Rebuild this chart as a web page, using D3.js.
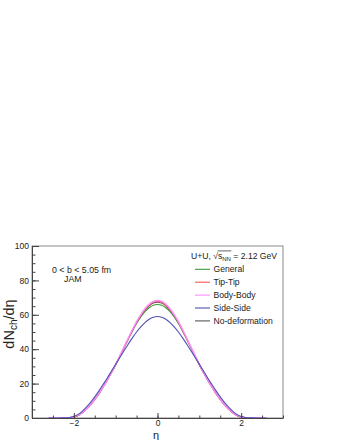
<!DOCTYPE html>
<html><head><meta charset="utf-8">
<script src="https://cdn.jsdelivr.net/npm/d3@7"></script>
<style>body{margin:0;background:#fff;} svg text{font-family:"Liberation Sans",Arial,sans-serif;fill:#222;white-space:pre;}</style>
</head><body><svg id="c" width="340" height="440"></svg>
<script>
// ---- data ----
const eta = [-2.6,-2.5,-2.4,-2.3,-2.2,-2.1,-2.0,-1.9,-1.8,-1.7,-1.6,-1.5,-1.4,-1.3,-1.2,-1.1,-1.0,-0.9,-0.8,-0.7,-0.6,-0.5,-0.4,-0.3,-0.2,-0.1,
  0.0,0.1,0.2,0.3,0.4,0.5,0.6,0.7,0.8,0.9,1.0,1.1,1.2,1.3,1.4,1.5,1.6,1.7,1.8,1.9,2.0,2.1,2.2,2.3,2.4,2.5,2.6];
const general = [0,0,0,0,0.05,0.2,0.6,1.5,3.0,5.1,7.7,10.8,14.2,18.0,22.1,26.4,31.0,35.8,40.8,45.7,50.5,54.9,58.7,61.8,64.1,65.6,
  66.0,65.6,64.1,61.8,58.7,54.9,50.5,45.7,40.8,35.8,31.0,26.4,22.1,18.0,14.2,10.8,7.7,5.1,3.0,1.5,0.6,0.2,0.05,0,0,0,0];
const tipTip = [0,0,0,0,0.05,0.2,0.6,1.5,3.0,5.0,7.6,10.7,14.1,17.9,22.0,26.4,31.0,35.9,41.0,46.1,51.0,55.7,59.7,63.0,65.6,67.3,
  67.8,67.3,65.6,63.0,59.7,55.7,51.0,46.1,41.0,35.9,31.0,26.4,22.0,17.9,14.1,10.7,7.6,5.0,3.0,1.5,0.6,0.2,0.05,0,0,0,0];
const bodyBody = [0,0,0,0,0.07,0.2,0.6,1.6,3.1,5.2,7.8,10.9,14.3,18.1,22.2,26.5,31.1,36.1,41.2,46.3,51.3,56.0,60.0,63.5,66.1,67.8,
  68.3,67.8,66.1,63.5,60.0,56.0,51.3,46.3,41.2,36.1,31.1,26.5,22.2,18.1,14.3,10.9,7.8,5.2,3.1,1.6,0.6,0.2,0.07,0,0,0,0];
const sideSide = [0,0,0,0.05,0.1,0.3,0.9,2.1,3.9,6.3,9.1,12.3,15.8,19.5,23.3,27.3,31.3,35.2,39.1,42.9,46.6,50.0,53.0,55.5,57.4,58.6,
  59.0,58.6,57.4,55.5,53.0,50.0,46.6,42.9,39.1,35.2,31.3,27.3,23.3,19.5,15.8,12.3,9.1,6.3,3.9,2.1,0.9,0.3,0.1,0.05,0,0,0];
const noDeform = [0,0,0,0,0.05,0.2,0.6,1.5,3.0,5.1,7.7,10.8,14.2,18.0,22.1,26.4,31.0,35.9,41.0,46.0,50.9,55.5,59.4,62.7,65.2,66.8,
  67.3,66.8,65.2,62.7,59.4,55.5,50.9,46.0,41.0,35.9,31.0,26.4,22.1,18.0,14.2,10.8,7.7,5.1,3.0,1.5,0.6,0.2,0.05,0,0,0,0];
const seriesNames = ["General","Tip-Tip","Body-Body","Side-Side","No-deformation"];
const seriesValues = [general, tipTip, bodyBody, sideSide, noDeform];
const seriesColors = ["#3a9a3a","#ff5555","#ff8cff","#5050b8","#555555"];
const xTicks = [-2,0,2];
const yTicks = [0,20,40,60,80,100];

// ---- layout ----
const svg = d3.select("#c");
const L=32, R=283, T=246, B=418;
const x = d3.scaleLinear().domain([-3,3]).range([L,R]);
const y = d3.scaleLinear().domain([0,100]).range([B,T]);

// frame
svg.append("rect").attr("x",L).attr("y",T).attr("width",R-L).attr("height",B-T)
  .attr("fill","none").attr("stroke","#8a8a8a").attr("stroke-width",1);

// curves (draw order: green, black, red, pink, blue)
const line = d3.line().x((d,i)=>x(eta[i])).y(d=>y(d)).curve(d3.curveMonotoneX);
[0,4,1,2,3].forEach(k=>{
  svg.append("path").datum(seriesValues[k]).attr("d",line)
    .attr("fill","none").attr("stroke",seriesColors[k]).attr("stroke-width",k===2?1.4:1.1);
});

// axes
const fs = 8.5;
const xAxis = svg.append("g").attr("transform",`translate(0,${B})`)
  .call(d3.axisBottom(x).tickValues(xTicks).tickSizeInner(-5).tickSizeOuter(0).tickPadding(2).tickFormat(d=>d<0?"\u2212"+(-d):d));
const xMinor = svg.append("g").attr("transform",`translate(0,${B})`)
  .call(d3.axisBottom(x).tickValues(d3.range(-3,3.001,0.5)).tickSizeInner(-2.5).tickSizeOuter(0).tickFormat(""));
const yAxis = svg.append("g").attr("transform",`translate(${L},0)`)
  .call(d3.axisLeft(y).tickValues(yTicks).tickSizeInner(-7).tickSizeOuter(0).tickPadding(3));
const yMinor = svg.append("g").attr("transform",`translate(${L},0)`)
  .call(d3.axisLeft(y).tickValues(d3.range(0,100.001,5)).tickSizeInner(-3.5).tickSizeOuter(0).tickFormat(""));
[xAxis,xMinor,yAxis,yMinor].forEach(g=>{
  g.selectAll("path.domain").attr("stroke","#444");
  g.selectAll(".tick line").attr("stroke","#444");
  g.selectAll("text").attr("font-size",fs).attr("font-family","Liberation Sans, Arial, sans-serif").attr("fill","#222");
});
xMinor.select("path.domain").remove();
yMinor.select("path.domain").remove();

// axis titles
svg.append("text").attr("x",156).attr("y",439).attr("text-anchor","middle").attr("font-size",11).text("\u03b7");
const yt = svg.append("text").attr("transform","translate(14,324) rotate(-90)").attr("text-anchor","middle").attr("font-size",14.5);
yt.append("tspan").text("dN");
yt.append("tspan").attr("font-size",10).attr("dy",3).text("ch");
yt.append("tspan").attr("dy",-3).text("/d\u03b7");

// annotations
svg.append("text").attr("x",52).attr("y",273).attr("font-size",8.8).text("0 < b < 5.05 fm");
svg.append("text").attr("x",64).attr("y",281.5).attr("font-size",8.8).text("JAM");

// legend header: U+U, sqrt(s_NN) = 2.12 GeV
const lf = 8.6;
let hx = 191; const hy = 258.5;
function piece(txt, size, dy){
  const t = svg.append("text").attr("x",hx).attr("y",hy+(dy||0)).attr("font-size",size).text(txt);
  const w = t.node().getComputedTextLength();
  const x0 = hx; hx += w; return {x0, w};
}
piece("U+U,\u00a0", lf);
const sq = piece("\u221a", lf);
const sPart = piece("s", lf);
const nn = piece("NN", lf*0.7, 2);
svg.append("line").attr("x1",sPart.x0-0.3).attr("x2",nn.x0+nn.w+0.3).attr("y1",hy-7.6).attr("y2",hy-7.6)
  .attr("stroke","#222").attr("stroke-width",0.7);
piece("\u00a0= 2.12 GeV", lf);

// legend entries
const legY0 = 269.3, legDy = 12.9;
seriesNames.forEach((n,i)=>{
  const yy = legY0 + i*legDy;
  svg.append("line").attr("x1",195).attr("x2",210).attr("y1",yy).attr("y2",yy)
    .attr("stroke",seriesColors[i]).attr("stroke-width",1.1);
  svg.append("text").attr("x",213.5).attr("y",yy+3).attr("font-size",lf).text(n);
});
</script></body></html>
